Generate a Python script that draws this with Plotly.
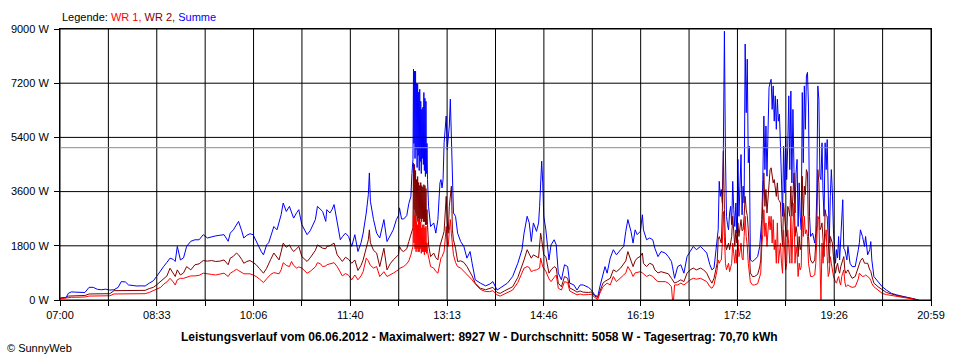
import plotly.graph_objects as go

# ---------------- data ----------------
TIMES = [
    "07:00", "07:03", "07:06", "07:08", "07:11", "07:15", "07:20", "07:24", "07:28", "07:32",
    "07:36", "07:40", "07:44", "07:48", "07:52", "07:56", "07:59", "08:03", "08:06", "08:10",
    "08:14", "08:18", "08:22", "08:26", "08:30", "08:33", "08:37", "08:40", "08:43", "08:46",
    "08:49", "08:51", "08:53", "08:56", "08:59", "09:02", "09:06", "09:10", "09:14", "09:18",
    "09:22", "09:26", "09:30", "09:34", "09:38", "09:42", "09:44", "09:47", "09:50", "09:52",
    "09:55", "09:57", "10:00", "10:03", "10:06", "10:09", "10:12", "10:14", "10:16", "10:19",
    "10:21", "10:23", "10:26", "10:29", "10:31", "10:33", "10:35", "10:38", "10:41", "10:43",
    "10:45", "10:48", "10:50", "10:53", "10:56", "10:58", "11:01", "11:03", "11:06", "11:08",
    "11:11", "11:13", "11:16", "11:17", "11:20", "11:22", "11:24", "11:27", "11:30", "11:32",
    "11:35", "11:38", "11:41", "11:44", "11:47", "11:50", "11:52", "11:55", "11:57", "11:58",
    "11:59", "12:02", "12:05", "12:08", "12:10", "12:12", "12:15", "12:18", "12:21", "12:24",
    "12:26", "12:27", "12:29", "12:31", "12:34", "12:36", "12:38", "12:39", "12:40",
    "12:40:30", "12:41", "12:41:30", "12:42", "12:42:30", "12:43", "12:43:30", "12:44", "12:44:30", "12:45",
    "12:45:30", "12:46", "12:46:30", "12:47", "12:47:30", "12:48", "12:48:30", "12:49", "12:49:30", "12:50",
    "12:50:30", "12:51", "12:51:30", "12:52", "12:52:30", "12:53", "12:53:30", "12:54",
    "12:55", "12:57", "13:00", "13:02", "13:04", "13:06", "13:07",
    "13:08", "13:09", "13:10", "13:11", "13:12", "13:13", "13:14", "13:15", "13:16", "13:17",
    "13:18", "13:19", "13:21", "13:23", "13:26", "13:29", "13:32", "13:35", "13:37", "13:40",
    "13:45", "13:50", "13:54", "13:57", "14:01", "14:04", "14:08", "14:11", "14:16", "14:21",
    "14:25", "14:27", "14:30", "14:32", "14:34", "14:36", "14:39", "14:41", "14:42", "14:43",
    "14:44", "14:45", "14:46", "14:48", "14:51", "14:53", "14:56", "14:58", "15:00", "15:03",
    "15:06", "15:09", "15:11", "15:15", "15:18", "15:21", "15:24", "15:29", "15:32", "15:35",
    "15:38", "15:40", "15:43", "15:45", "15:47", "15:50", "15:53", "15:56", "16:00", "16:03",
    "16:05", "16:07", "16:10", "16:12", "16:14", "16:16", "16:19", "16:21", "16:22", "16:25",
    "16:28", "16:31", "16:33", "16:36", "16:39", "16:43", "16:46", "16:49", "16:50", "16:51",
    "16:52", "16:55", "16:58", "17:01", "17:04", "17:07", "17:10", "17:13", "17:17", "17:20",
    "17:23", "17:26", "17:28", "17:30", "17:32", "17:33", "17:34", "17:35", "17:36", "17:37",
    "17:38", "17:39", "17:40", "17:41", "17:42", "17:43", "17:44", "17:45", "17:46", "17:47",
    "17:48", "17:49", "17:50", "17:51", "17:52", "17:53", "17:54", "17:55", "17:56", "17:57",
    "17:58", "17:59", "18:00", "18:01", "18:02", "18:03", "18:04", "18:05", "18:07", "18:09",
    "18:12", "18:14", "18:15", "18:16", "18:17", "18:18", "18:19", "18:20", "18:21", "18:22",
    "18:23", "18:24", "18:25", "18:26", "18:27", "18:28", "18:29", "18:30", "18:31", "18:32",
    "18:33", "18:34", "18:35", "18:36", "18:37", "18:38", "18:39", "18:40", "18:41", "18:42",
    "18:43", "18:44", "18:45", "18:46", "18:47", "18:48", "18:49", "18:50", "18:51", "18:52",
    "18:53", "18:54", "18:55", "18:56", "18:57", "18:58", "18:59", "19:00", "19:01", "19:02",
    "19:03", "19:05", "19:07", "19:08", "19:09", "19:10", "19:11", "19:12", "19:13", "19:14",
    "19:15", "19:16", "19:17", "19:18", "19:19", "19:20", "19:21", "19:22", "19:23", "19:24",
    "19:25", "19:27", "19:28", "19:29", "19:30", "19:31", "19:32", "19:33", "19:34", "19:35",
    "19:36", "19:37", "19:38", "19:39", "19:41", "19:43", "19:46", "19:49", "19:50", "19:51",
    "19:53", "19:55", "19:56", "19:58", "20:00", "20:01", "20:02", "20:04", "20:08", "20:12",
    "20:16", "20:21", "20:26", "20:30", "20:37", "20:42", "20:45", "20:47",
]

SUMME = [
    60, 80, 90, 220, 270, 260, 245, 250, 420, 420,
    355, 340, 360, 330, 340, 420, 610, 600, 500, 480,
    465, 470, 465, 560, 640, 780, 1000, 1120, 1250, 1390,
    1350, 1280, 1780, 1330, 1400, 1780, 1950, 2000, 2000, 2170,
    2060, 2100, 2130, 2150, 2170, 1950, 2220, 2330, 2500, 2610,
    2300, 2060, 2150, 2200, 2170, 1950, 1750, 1600, 1500, 1830,
    1900, 2150, 2440, 2330, 2600, 2830, 3220, 2940, 3110, 2900,
    2720, 2900, 3000, 2500, 2300, 2170, 2300, 2440, 2670, 3110,
    3000, 2940, 2610, 3000, 2890, 3000, 3170, 2560, 2000, 2100,
    2220, 2110, 1780, 2170, 1610, 1900, 2220, 2890, 3500, 4220,
    3280, 2670, 2220, 2060, 2400, 2670, 1940, 2150, 2330, 2670,
    2800, 3060, 2690, 2690, 2800, 3200, 3440, 4200, 4670,
    7670, 5200, 7600, 4700, 7600, 5000, 7200, 4400, 7170, 4800,
    6900, 4300, 7000, 4600, 6600, 4200, 6330, 4700, 6400, 4500,
    6890, 4300, 6700, 4100, 6600, 4200, 5200, 4000,
    3110, 2440, 2560, 2220, 2670, 3890, 4000,
    3720, 4000, 5220, 5600, 6110, 5000, 5330, 5780, 6670, 5110,
    4330, 2890, 2780, 2220, 1940, 1780, 1390, 1610, 1220, 670,
    560, 470, 530, 610, 330, 400, 480, 560, 780, 1220,
    1670, 2220, 2780, 2560, 1940, 2560, 2280, 2560, 3110, 3800,
    4610, 3890, 2780, 2330, 1330, 1830, 2000, 1830, 890, 670,
    1170, 1110, 560, 500, 330, 500, 500, 420, 330, 170,
    110, 440, 830, 1110, 890, 1390, 1670, 1500, 1670, 1780,
    2280, 2670, 2280, 1890, 2330, 2170, 2280, 2830, 2330, 2000,
    2060, 2000, 1720, 1440, 1610, 1560, 1440, 1280, 1100, 900,
    720, 1110, 1170, 890, 1440, 1610, 1780, 1670, 1780, 1670,
    1560, 1170, 1000, 1060, 1780, 1900, 2330, 3940, 3440, 3670,
    3220, 5000, 8927, 4780, 2780, 2500, 2330, 2890, 3110, 2500,
    3940, 3000, 2440, 3220, 2220, 4670, 2780, 3780, 4830, 2830,
    3780, 3220, 8500, 6220, 8000, 4560, 5110, 1330, 1280, 1330,
    1440, 1780, 2200, 2670, 4000, 6110, 4330, 5780, 4110, 5330,
    7060, 7220, 7330, 6330, 7110, 5940, 6780, 5670, 6670, 5940,
    6170, 5110, 4000, 2780, 5110, 3560, 5440, 4000, 5110, 6780,
    4330, 6940, 3890, 6330, 4330, 2890, 4220, 4670, 2440, 3890,
    2780, 2330, 6890, 4560, 7110, 5670, 7440, 7560, 6440, 2780,
    2110, 2220, 1890, 2220, 3560, 7110, 6670, 4110, 4000, 5220,
    3560, 2780, 5220, 4330, 5330, 3560, 1890, 3440, 4330, 3560,
    2330, 1220, 1670, 1400, 2110, 1330, 2110, 2400, 3330, 1700,
    1670, 1500, 1330, 1780, 1220, 1110, 1110, 1670, 1900, 2330,
    2110, 1780, 2110, 1500, 1670, 1940, 1330, 780, 610, 440,
    330, 220, 170, 140, 90, 60, 30, 0,
]

WR2 = [
    60, 80, 80, 130, 130, 130, 130, 150, 200, 200,
    200, 190, 200, 210, 310, 310, 330, 320, 310, 310,
    310, 310, 320, 380, 420, 500, 610, 720, 800, 1055,
    900, 780, 1000, 830, 900, 1110, 1000, 1170, 1200, 1310,
    1290, 1310, 1280, 1290, 1330, 1170, 1390, 1450, 1560, 1500,
    1350, 1220, 1280, 1310, 1250, 1170, 1050, 950, 890, 1050,
    1220, 1350, 1560, 1400, 1330, 1600, 1890, 1750, 1830, 1700,
    1610, 1700, 1780, 1440, 1350, 1280, 1400, 1500, 1650, 1830,
    1780, 1720, 1700, 1780, 1800, 1850, 1890, 1500, 1350, 1280,
    1420, 1350, 1220, 1330, 980, 1150, 1330, 1780, 2000, 2330,
    1900, 1650, 1560, 1110, 1400, 1720, 1000, 1200, 1330, 1450,
    1500, 1780, 1650, 1610, 1700, 1940, 2200, 2330, 2400,
    4550, 3000, 4500, 2700, 4300, 2800, 4000, 2600, 4100, 2700,
    3900, 2500, 3800, 2700, 3900, 2600, 3800, 2700, 3750, 2600,
    3830, 2600, 3800, 2500, 3700, 2500, 3000, 2500,
    1830, 1440, 1560, 1400, 1330, 1800, 1900,
    2000, 2150, 2280, 3110, 3440, 2600, 2220, 3110, 3500, 3780,
    2330, 2000, 1720, 1280, 1300, 1250, 1110, 940, 800, 560,
    390, 340, 380, 420, 250, 220, 300, 350, 440, 750,
    1100, 1330, 1670, 1550, 1390, 1500, 1450, 1400, 1830, 2220,
    2000, 1610, 1500, 1440, 890, 1000, 1110, 1060, 560, 440,
    780, 720, 400, 330, 260, 300, 260, 250, 270, 130,
    80, 280, 560, 620, 670, 720, 1000, 940, 1060, 1220,
    1300, 1610, 1330, 1110, 1300, 1390, 1450, 1560, 1220, 1110,
    1220, 1170, 1000, 900, 940, 890, 870, 720, 650, 600,
    560, 610, 670, 610, 890, 1000, 1060, 1000, 1060, 1000,
    890, 670, 560, 720, 1000, 1220, 2000, 2110, 2000, 1890,
    2940, 4940, 3000, 1890, 1670, 1800, 1890, 1670, 1900, 2110,
    2780, 2200, 1780, 2330, 1890, 2560, 2110, 2400, 2670, 2300,
    2330, 2780, 3440, 3000, 2800, 2330, 1220, 900, 780, 780,
    850, 1100, 1330, 2330, 3000, 4220, 3110, 3670, 2890, 3500,
    4000, 4330, 4390, 4110, 3890, 4000, 3700, 3440, 3890, 3330,
    3300, 3220, 2330, 1780, 3220, 2600, 2330, 2110, 3110, 3000,
    2780, 3780, 2780, 3500, 4220, 2110, 2440, 2200, 1440, 2110,
    1670, 1800, 4110, 2780, 3780, 3500, 4330, 4220, 2110, 1600,
    1330, 1220, 1330, 1890, 2500, 4330, 3890, 2330, 2400, 2560,
    2110, 1440, 3000, 2800, 2780, 2110, 1220, 2110, 2000, 1890,
    1440, 890, 1100, 1220, 1000, 890, 1100, 1220, 1300, 1440,
    1000, 890, 950, 1000, 850, 720, 780, 1100, 1220, 1300,
    1390, 1220, 1220, 1220, 1000, 950, 800, 560, 440, 330,
    250, 200, 140, 110, 80, 50, 30, 0,
]

WR1 = [
    40, 55, 55, 90, 90, 90, 90, 100, 130, 130,
    130, 130, 130, 140, 200, 200, 200, 210, 200, 200,
    200, 200, 210, 250, 300, 360, 420, 530, 600, 720,
    600, 500, 670, 720, 720, 760, 800, 800, 820, 890,
    860, 850, 830, 860, 890, 780, 890, 950, 1020, 980,
    920, 870, 870, 870, 830, 780, 700, 640, 580, 700,
    780, 850, 910, 900, 870, 1000, 1240, 1150, 1110, 1280,
    1150, 1060, 1100, 1060, 950, 890, 950, 1000, 1100, 1240,
    1200, 1110, 1130, 1170, 1200, 1220, 1240, 1110, 900, 800,
    880, 820, 670, 830, 670, 800, 940, 1390, 1300, 1220,
    1150, 1060, 1110, 780, 860, 940, 780, 830, 890, 960,
    1000, 1050, 1080, 1110, 1200, 1300, 1500, 1700, 1780,
    3000, 1900, 2800, 1700, 2900, 1600, 2600, 1700, 2500, 1600,
    2700, 1600, 2500, 1700, 2600, 1550, 2400, 1600, 2500, 1600,
    2500, 1500, 2400, 1600, 2450, 1550, 1900, 1600,
    1440, 1110, 1060, 950, 890, 1300, 1400,
    1440, 1500, 1610, 2000, 2440, 1900, 1780, 2300, 2670, 2200,
    1780, 1500, 1250, 1110, 1060, 950, 830, 750, 670, 530,
    350, 280, 280, 310, 170, 130, 200, 250, 330, 580,
    900, 1060, 1110, 1080, 940, 980, 1000, 1050, 1060, 1390,
    1200, 1100, 1060, 950, 700, 610, 750, 830, 390, 330,
    610, 580, 300, 220, 170, 200, 170, 180, 190, 90,
    20, 220, 440, 500, 560, 500, 780, 610, 720, 830,
    900, 1110, 940, 780, 900, 920, 940, 900, 870, 780,
    830, 780, 700, 610, 610, 610, 560, 440, 0, 0,
    500, 500, 560, 500, 580, 670, 720, 690, 720, 670,
    610, 440, 390, 500, 800, 1000, 1330, 1220, 1300, 1330,
    1890, 2940, 2110, 1220, 1000, 1100, 1220, 940, 1100, 1220,
    1890, 1400, 1220, 1670, 1220, 2000, 1440, 1600, 1890, 1400,
    1330, 2110, 2780, 2110, 1800, 1220, 780, 600, 500, 500,
    540, 750, 890, 1780, 2200, 3000, 2110, 2560, 1780, 2300,
    2780, 2330, 2780, 1890, 2670, 1670, 2000, 1220, 2560, 1220,
    1600, 1890, 1220, 890, 2330, 1500, 1000, 1220, 2330, 1800,
    1220, 2780, 1220, 2400, 3220, 1220, 1780, 1500, 780, 1220,
    1000, 1100, 2780, 2110, 2780, 2200, 2330, 2110, 1220, 1000,
    780, 780, 830, 1220, 1800, 2780, 2670, 1220, 0, 1890,
    1220, 1780, 2000, 2330, 1440, 780, 900, 1440, 1220, 1000,
    800, 600, 560, 700, 780, 600, 500, 780, 900, 1000,
    600, 440, 480, 500, 450, 420, 440, 700, 890, 850,
    780, 800, 830, 780, 720, 650, 550, 440, 330, 220,
    180, 150, 110, 90, 60, 30, 20, 0,
]

Y_TICKS = [0, 1800, 3600, 5400, 7200, 9000]
Y_LABELS = ["0 W", "1800 W", "3600 W", "5400 W", "7200 W", "9000 W"]
X_LABELS = ["07:00", "08:33", "10:06", "11:40", "13:13",
            "14:46", "16:19", "17:52", "19:26", "20:59"]
AVERAGE = 5058
START, END = "07:00", "20:59"

SERIES_NAMES = ["WR 1", "WR 2", "Summe"]
SERIES_COLORS = ["#ff0000", "#800000", "#0000ff"]

TITLE = ("Leistungsverlauf vom 06.06.2012 - Maximalwert: 8927 W - "
         "Durchschnitt: 5058 W - Tagesertrag: 70,70 kWh")

assert len(TIMES) == len(SUMME) == len(WR2) == len(WR1)


# ---------------- figure ----------------
def to_min(t):
    parts = [int(p) for p in t.split(":")] + [0]
    s = [int(p) for p in START.split(":")]
    return (parts[0] - s[0]) * 60 + (parts[1] - s[1]) + parts[2] / 60.0


x = [to_min(t) for t in TIMES]
span = to_min(END)
n_div = 2 * (len(X_LABELS) - 1)
x_ticks = [span * k / n_div for k in range(n_div + 1)]
x_text = [X_LABELS[k // 2] if k % 2 == 0 else "" for k in range(n_div + 1)]

FONT = "Liberation Sans"

fig = go.Figure()
# draw order: Summe underneath, then WR 2, then WR 1 on top
for vals, name, col in [(SUMME, SERIES_NAMES[2], SERIES_COLORS[2]),
                        (WR2, SERIES_NAMES[1], SERIES_COLORS[1]),
                        (WR1, SERIES_NAMES[0], SERIES_COLORS[0])]:
    fig.add_trace(go.Scatter(x=x, y=vals, mode="lines", name=name,
                             line=dict(color=col, width=1),
                             hoverinfo="x+y+name"))

shapes = []
for xt in x_ticks:
    shapes.append(dict(type="line", xref="x", yref="y", x0=xt, x1=xt,
                       y0=Y_TICKS[0], y1=Y_TICKS[-1], layer="above",
                       line=dict(color="black", width=1)))
for yt in Y_TICKS:
    shapes.append(dict(type="line", xref="x", yref="y", x0=0, x1=span,
                       y0=yt, y1=yt, layer="above",
                       line=dict(color="black", width=1)))
shapes.append(dict(type="line", xref="x", yref="y", x0=0, x1=span,
                   y0=AVERAGE, y1=AVERAGE, layer="above",
                   line=dict(color="#8c8c8c", width=1)))

legend_txt = ("Legende: "
              + f"<span style='color:{SERIES_COLORS[0]}'>{SERIES_NAMES[0]},</span> "
              + f"<span style='color:{SERIES_COLORS[1]}'>{SERIES_NAMES[1]},</span> "
              + f"<span style='color:{SERIES_COLORS[2]}'>{SERIES_NAMES[2]}</span>")

fig.update_layout(
    width=960, height=360,
    margin=dict(l=60, r=29, t=29, b=60),
    paper_bgcolor="white", plot_bgcolor="white",
    showlegend=False,
    font=dict(family=FONT, size=11, color="black"),
    shapes=shapes,
    xaxis=dict(range=[0, span], tickvals=x_ticks, ticktext=x_text,
               showgrid=False, zeroline=False, showline=True,
               linecolor="black", linewidth=1, mirror=True,
               ticks="outside", ticklen=5, tickcolor="black", tickwidth=1,
               tickfont=dict(family=FONT, size=11, color="black")),
    yaxis=dict(range=[0, Y_TICKS[-1]], tickvals=Y_TICKS, ticktext=Y_LABELS,
               showgrid=False, zeroline=False, showline=True,
               linecolor="black", linewidth=1, mirror=True,
               ticks="outside", ticklen=5, tickcolor="black", tickwidth=1,
               ticklabelstandoff=3,
               tickfont=dict(family=FONT, size=11, color="black")),
    annotations=[
        dict(text=legend_txt, xref="paper", yref="paper", x=0, y=1.044,
             xanchor="left", yanchor="middle", showarrow=False,
             font=dict(family=FONT, size=11)),
        dict(text=f"<b>{TITLE}</b>", xref="paper", yref="paper",
             x=(479.5 - 60) / 871, y=-(337 - 300) / 271,
             xanchor="center", yanchor="middle", showarrow=False,
             font=dict(family=FONT, size=12)),
        dict(text="© SunnyWeb", xref="paper", yref="paper",
             x=(5 - 60) / 871, y=-(348 - 300) / 271,
             xanchor="left", yanchor="middle", showarrow=False,
             font=dict(family=FONT, size=11)),
    ],
)

fig.write_html(
    "out.html",
    config={"displayModeBar": False},
    post_script="document.body.style.margin='0';document.body.style.padding='0';",
)
